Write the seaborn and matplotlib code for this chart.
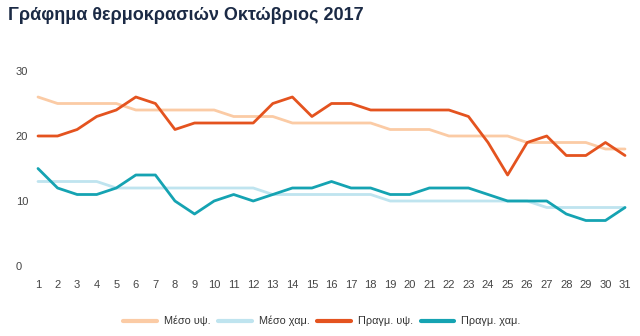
import matplotlib
matplotlib.use("Agg")
import matplotlib.pyplot as plt
import seaborn as sns
import pandas as pd

days = list(range(1, 32))
mean_high = [26,25,25,25,25,24,24,24,24,24,23,23,23,22,22,22,22,22,21,21,21,20,20,20,20,19,19,19,19,18,18]
mean_low = [13,13,13,13,12,12,12,12,12,12,12,12,11,11,11,11,11,11,10,10,10,10,10,10,10,10,9,9,9,9,9]
actual_high = [20,20,21,23,24,26,25,21,22,22,22,22,25,26,23,25,25,24,24,24,24,24,23,19,14,19,20,17,17,19,17]
actual_low = [15,12,11,11,12,14,14,10,8,10,11,10,11,12,12,13,12,12,11,11,12,12,12,11,10,10,10,8,7,7,9]
series_names = ["Μέσο υψ.", "Μέσο χαμ.", "Πραγμ. υψ.", "Πραγμ. χαμ."]
colors = ["#fbcba5", "#bfe4ef", "#e4531f", "#15a3b2"]
title = "Γράφημα θερμοκρασιών Οκτώβριος 2017"

df = pd.concat([
    pd.DataFrame({"day": days, "temp": vals, "series": name})
    for name, vals in zip(series_names, [mean_high, mean_low, actual_high, actual_low])
])

sns.set_theme(style="white")
plt.rcParams["font.family"] = ["Liberation Sans", "DejaVu Sans"]

fig = plt.figure(figsize=(6.4, 3.36), dpi=100)
ax = fig.add_axes([38/640, (336-266)/336, (625-38)/640, (266-71)/336])
sns.lineplot(data=df, x="day", y="temp", hue="series", hue_order=series_names,
             palette=colors, linewidth=2, ax=ax, legend=True)
for ln in ax.lines:
    ln.set_clip_on(False)
    ln.set_solid_joinstyle("round")

ax.set_xlim(1, 31)
ax.set_ylim(0, 30)
ax.set_xticks(days)
ax.set_yticks([0, 10, 20, 30])
ax.tick_params(axis="both", length=0, labelsize=8, labelcolor="#444444")
ax.tick_params(axis="x", pad=10)
ax.tick_params(axis="y", pad=16)
for lbl in ax.get_yticklabels():
    lbl.set_horizontalalignment("left")
ax.set_xlabel("")
ax.set_ylabel("")
for s in ax.spines.values():
    s.set_visible(False)

leg = ax.legend(loc="lower center", bbox_to_anchor=(0.484, -0.36), ncol=4, frameon=False,
                fontsize=7.8, handlelength=3.1, columnspacing=0.7, handletextpad=0.65,
                labelcolor="#333333")
for h in leg.get_lines():
    h.set_linewidth(3)

fig.text(8/640, 1 - 16/336, title, fontsize=13, fontweight="bold", color="#1b2a45",
         ha="left", va="center")

fig.savefig("out.png", dpi=100)
